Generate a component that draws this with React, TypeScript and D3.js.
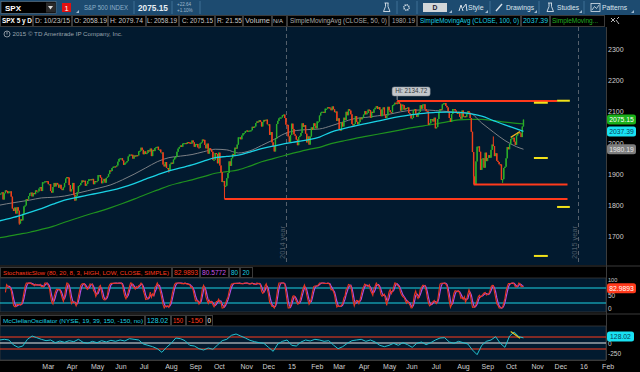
import React from 'react';
import * as d3 from 'd3';

// ---- data -------------------------------------------------------------

// NYSE holidays (no bar on these days)
const holidays = [
  '2014-01-01', '2014-01-20', '2014-02-17', '2014-04-18', '2014-05-26', '2014-07-04',
  '2014-09-01', '2014-11-27', '2014-12-25', '2015-01-01', '2015-01-19', '2015-02-16',
  '2015-04-03', '2015-05-25', '2015-07-03', '2015-09-07', '2015-11-26', '2015-12-25',
  '2016-01-01', '2016-01-18', '2016-02-15',
];

const firstOpen = 1846;

// SPX daily closes, 2014-01-02 .. 2015-10-23, one row per month
const closes: number[] = [
  1832, 1831, 1827, 1838, 1837, 1838, 1842, 1819, 1839, 1848, 1846, 1839, 1844, 1845, 1828, 1790, 1782, 1793, 1774, 1794, 1783,
  1742, 1755, 1752, 1773, 1797, 1800, 1820, 1819, 1830, 1839, 1841, 1829, 1840, 1836, 1848, 1845, 1845, 1854, 1859,
  1846, 1874, 1874, 1877, 1878, 1877, 1868, 1868, 1846, 1841, 1859, 1872, 1861, 1872, 1867, 1857, 1866, 1853, 1849, 1858, 1872,
  1886, 1891, 1889, 1865, 1845, 1852, 1872, 1833, 1816, 1831, 1843, 1862, 1865, 1872, 1880, 1875, 1879, 1863, 1869, 1878, 1884,
  1884, 1881, 1885, 1868, 1878, 1876, 1878, 1897, 1897, 1889, 1871, 1878, 1885, 1873, 1888, 1892, 1901, 1912, 1910, 1920, 1924,
  1925, 1924, 1928, 1940, 1949, 1951, 1951, 1944, 1930, 1936, 1938, 1942, 1957, 1963, 1963, 1962, 1950, 1960, 1957, 1961, 1960,
  1973, 1975, 1985, 1978, 1964, 1973, 1965, 1968, 1977, 1973, 1982, 1958, 1978, 1974, 1984, 1987, 1988, 1978, 1979, 1970, 1970, 1931,
  1925, 1939, 1920, 1920, 1910, 1932, 1937, 1934, 1947, 1955, 1955, 1972, 1982, 1987, 1992, 1988, 1998, 2000, 2000, 1997, 2003,
  2002, 2001, 1998, 2008, 2002, 1988, 1996, 1997, 1986, 1984, 1999, 2002, 2011, 2010, 1994, 1983, 1998, 1966, 1983, 1978, 1972,
  1946, 1946, 1968, 1965, 1935, 1969, 1928, 1906, 1875, 1878, 1862, 1863, 1887, 1904, 1941, 1927, 1951, 1965, 1962, 1985, 1982, 1995, 2018,
  2018, 2012, 2024, 2031, 2032, 2038, 2040, 2038, 2039, 2040, 2041, 2052, 2049, 2053, 2064, 2069, 2067, 2073, 2068,
  2053, 2067, 2074, 2072, 2075, 2060, 2060, 2026, 2035, 2002, 1990, 1973, 2013, 2061, 2071, 2079, 2082, 2082, 2089, 2091, 2080, 2059,
  2058, 2021, 2003, 2026, 2062, 2045, 2028, 2023, 2011, 1993, 2019, 2023, 2032, 2063, 2052, 2057, 2030, 2002, 2021, 1995,
  2021, 2050, 2042, 2063, 2055, 2047, 2069, 2069, 2088, 2097, 2100, 2100, 2097, 2110, 2110, 2115, 2114, 2111, 2105,
  2117, 2108, 2099, 2101, 2071, 2079, 2044, 2040, 2066, 2053, 2081, 2074, 2100, 2089, 2108, 2104, 2092, 2061, 2056, 2061, 2086, 2068,
  2060, 2067, 2081, 2076, 2082, 2091, 2102, 2092, 2096, 2107, 2105, 2081, 2100, 2097, 2108, 2113, 2118, 2109, 2115, 2107, 2086,
  2108, 2114, 2089, 2080, 2088, 2116, 2105, 2099, 2098, 2121, 2123, 2129, 2128, 2126, 2131, 2126, 2104, 2123, 2121, 2107,
  2112, 2110, 2114, 2096, 2093, 2079, 2080, 2105, 2109, 2094, 2084, 2096, 2100, 2121, 2110, 2123, 2124, 2109, 2102, 2101, 2058, 2063,
  2077, 2077, 2069, 2081, 2047, 2051, 2077, 2100, 2109, 2107, 2124, 2127, 2128, 2119, 2114, 2102, 2080, 2068, 2093, 2109, 2109, 2104,
  2098, 2093, 2100, 2084, 2078, 2104, 2084, 2086, 2083, 2092, 2102, 2097, 2080, 2036, 1971, 1893, 1868, 1941, 1988, 1989, 1972,
  1914, 1949, 1951, 1921, 1969, 1942, 1952, 1961, 1953, 1978, 1995, 1990, 1958, 1967, 1943, 1939, 1932, 1931, 1882, 1884, 1920,
  1924, 1951, 1987, 1980, 1996, 2013, 2015, 2017, 2004, 1994, 2024, 2033, 2034, 2031, 2019, 2053, 2075,
];

// intraday extremes on a few notable bars [bar, price]
const wickLows: [number, number][] = [[21, 1738], [69, 1814], [150, 1905], [198, 1821], [241, 1973], [413, 1867], [438, 1872]];
const wickHighs: [number, number][] = [[347, 2134.72], [430, 2021]];

// moving averages read every 10 bars (+ last bar)
const maBars = [...d3.range(0, 451, 10), 456];
const sma50 = [
  1798, 1805, 1811, 1817, 1824, 1826, 1830, 1838, 1847, 1856,
  1866, 1882, 1900, 1920, 1940, 1953, 1958, 1963, 1972, 1980,
  1978, 1968, 1975, 1992, 2010, 2030, 2040, 2043, 2045, 2055,
  2067, 2078, 2082, 2087, 2092, 2100, 2105, 2106, 2104, 2101,
  2098, 2095, 2064, 2035, 2008, 1988, 1980,
];
const sma100 = [
  1747, 1756, 1766, 1778, 1790, 1804, 1817, 1825, 1833, 1840,
  1848, 1858, 1870, 1884, 1898, 1911, 1920, 1930, 1942, 1953,
  1957, 1961, 1971, 1982, 1990, 1998, 2004, 2010, 2019, 2035,
  2045, 2054, 2062, 2070, 2078, 2085, 2091, 2095, 2098, 2099,
  2098, 2094, 2086, 2072, 2058, 2045, 2037,
];
const sma200 = [
  1694, 1700, 1707, 1714, 1723, 1733, 1746, 1758, 1770, 1781,
  1793, 1806, 1820, 1835, 1849, 1863, 1873, 1882, 1892, 1903,
  1908, 1914, 1926, 1940, 1950, 1960, 1970, 1979, 1986, 1998,
  2006, 2014, 2021, 2028, 2035, 2042, 2049, 2055, 2061, 2068,
  2074, 2076, 2076, 2072, 2067, 2063, 2061,
];

// McClellan oscillator read every 4 bars
const mcBars = d3.range(0, 457, 4);
const mcclellan = [
  75, 75, 92, 75, -50, -108, -75, 92, 175, 133,
  92, 58, 75, 8, 50, 17, 58, 33, 92, 17,
  -8, 42, 8, 58, 25, 67, 42, 75, 50, 108,
  92, 75, -25, -58, -92, -142, -233, -108, -8, 125,
  108, 58, -58, -75, -142, -175, -125, -158, -50, 58,
  92, 192, 225, 175, 125, 67, 33, 8, -8, -108,
  -208, -25, 42, 75, -58, -75, 25, 75, 50, 92,
  75, 42, 58, -50, -142, -92, -8, 58, 75, 92,
  42, 75, 25, -58, -92, -58, -8, -58, 8, -42,
  -108, -8, 25, -42, 8, 75, 125, 133, 25, -8,
  42, 8, -25, -175, -292, -58, 42, 75, 158, -8,
  -108, 175, 275, 158, 128,
];

// chart drawings: horizontal levels [fromBar, toBar, price]
const redLevels: [number, number, number][] = [[347, 485, 2134.72], [413, 494, 1867], [198, 494, 1820.66]];
const yellowLevels: [number, number, number][] = [
  [485, 496, 2135.5], [465, 477, 2129], [465, 477, 1952], [485, 496, 1795], [465, 477, 1638],
];
const priceTrend: [number, number][] = [[445, 2018], [453, 2037]];
const mcTrend: [number, number][] = [[445, 290], [453, 120]];

const priceTicks = [1700, 1800, 1900, 2000, 2100, 2200, 2300];
const stochTicks = [100, 50, 0];
const mcTicks = [0, -250];

// ---- chart ------------------------------------------------------------

const FONT = '"Liberation Sans", Arial, sans-serif';
const NAVY = '#021a2f';
const CYAN = '#1ad2e4';
const RED = '#ff3a1c';
const UP = '#2aae2a';
const DOWN = '#f0401c';
const PR = 606;

type Cell = { t: string; x0: number; x1: number; tx: number; tw: number; c?: string; b?: boolean; fs?: number };

const App: React.FC = () => {
  const fmt = d3.utcFormat('%Y-%m-%d');
  const calendar = d3.utcDay
    .range(new Date(Date.UTC(2014, 0, 1)), new Date(Date.UTC(2016, 2, 1)))
    .filter(d => d.getUTCDay() !== 0 && d.getUTCDay() !== 6 && !holidays.includes(fmt(d)));

  const x = d3.scaleLinear().domain([0, 504]).range([-5, 579.1]);
  const yP = d3.scaleLinear().domain([1700, 2300]).range([236.6, 49.4]);
  const yS = d3.scaleLinear().domain([0, 100]).range([308, 283]);
  const yM = d3.scaleLinear().domain([-150, 150]).range([349, 337]);

  // month ticks: first trading day of each month
  const monthTicks: { i: number; label: string }[] = [];
  calendar.forEach((d, i) => {
    if (i > 30 && d.getUTCMonth() !== calendar[i - 1].getUTCMonth()) {
      monthTicks.push({ i, label: d.getUTCMonth() === 0 ? d3.utcFormat('%y')(d) : d3.utcFormat('%b')(d) });
    }
  });
  const yearLines = monthTicks.filter(t => /^\d+$/.test(t.label)).map(t => t.i - 0.5);

  const candles = closes.map((c, i) => {
    const o = i === 0 ? firstOpen : closes[i - 1];
    return { i, o, c, hi: Math.max(o, c), lo: Math.min(o, c) };
  });
  wickLows.forEach(([i, v]) => { candles[i].lo = Math.min(candles[i].lo, v); });
  wickHighs.forEach(([i, v]) => { candles[i].hi = Math.max(candles[i].hi, v); });

  // StochasticSlow(8, 3) from the bars
  const rawK = candles.map((d, i) => {
    if (i < 7) return NaN;
    const w = candles.slice(i - 7, i + 1);
    const hh = d3.max(w, e => e.hi) as number;
    const ll = d3.min(w, e => e.lo) as number;
    return hh === ll ? 50 : ((d.c - ll) / (hh - ll)) * 100;
  });
  const sma3 = (a: number[]) => a.map((_, i) => (i < 2 ? NaN : (a[i] + a[i - 1] + a[i - 2]) / 3));
  const slowK = sma3(rawK);
  const slowD = sma3(slowK);

  const maLine = d3.line<[number, number]>().x(d => x(d[0])).y(d => yP(d[1])).curve(d3.curveMonotoneX);
  const ma = (vals: number[]) => maLine(maBars.map((b, k) => [b, vals[k]] as [number, number])) || '';
  const stLine = d3.line<number>().defined(v => !isNaN(v)).x((_, i) => x(i)).y(v => yS(v));
  const mcLine = d3.line<number>().x((_, k) => x(mcBars[k])).y(v => yM(v));

  const hiX = x(wickHighs[0][0]);
  const hiY = yP(wickHighs[0][1]);

  const infoCells: Cell[] = [
    { t: 'SPX 5 y D', x0: 0, x1: 33, tx: 2, tw: 30, c: '#ffffff', b: true, fs: 6.4 },
    { t: 'D: 10/23/15', x0: 33, x1: 72, tx: 35, tw: 35 },
    { t: 'O: 2058.19', x0: 72, x1: 108, tx: 74, tw: 33 },
    { t: 'H: 2079.74', x0: 108, x1: 146, tx: 110, tw: 33 },
    { t: 'L: 2058.19', x0: 146, x1: 179, tx: 147, tw: 30 },
    { t: 'C: 2075.15', x0: 179, x1: 215, tx: 182, tw: 31 },
    { t: 'R: 21.55', x0: 215, x1: 243, tx: 217, tw: 25 },
    { t: 'Volume', x0: 243, x1: 272, tx: 245, tw: 25 },
    { t: 'N/A', x0: 272, x1: 287, tx: 273, tw: 10, fs: 6 },
    { t: 'SimpleMovingAvg (CLOSE, 50, 0)', x0: 287, x1: 389, tx: 290, tw: 97, c: '#a9a9a9', fs: 6.3 },
    { t: '1980.19', x0: 389, x1: 417, tx: 392, tw: 23, c: '#a9a9a9' },
    { t: 'SimpleMovingAvg (CLOSE, 100, 0)', x0: 417, x1: 521, tx: 420, tw: 99, c: CYAN, fs: 6.3 },
    { t: '2037.39', x0: 521, x1: 550, tx: 523, tw: 25, c: CYAN },
    { t: 'SimpleMoving...', x0: 550, x1: 605, tx: 552, tw: 46, c: '#22b022' },
  ];
  const stochCells: Cell[] = [
    { t: 'StochasticSlow (80, 20, 8, 3, HIGH, LOW, CLOSE, SIMPLE)', x0: 0, x1: 172, tx: 3, tw: 166, c: RED, fs: 6 },
    { t: '82.9893', x0: 172, x1: 200, tx: 174, tw: 24, c: RED, fs: 6.3 },
    { t: '80.5772', x0: 200, x1: 229, tx: 202, tw: 24, c: '#c455e6', fs: 6.3 },
    { t: '80', x0: 229, x1: 240, tx: 231, tw: 7, c: CYAN, fs: 6.3 },
    { t: '20', x0: 240, x1: 253, tx: 242.5, tw: 7, c: CYAN, fs: 6.3 },
  ];
  const mcCells: Cell[] = [
    { t: 'McClellanOscillator (NYSE, 19, 39, 150, -150, no)', x0: 0, x1: 145, tx: 3, tw: 140, c: CYAN, fs: 6 },
    { t: '128.02', x0: 145, x1: 171, tx: 147, tw: 21, c: CYAN, fs: 6.3 },
    { t: '150', x0: 171, x1: 186, tx: 173, tw: 10, c: RED, fs: 6.3 },
    { t: '-150', x0: 186, x1: 206, tx: 188, tw: 15, c: RED, fs: 6.3 },
    { t: '0', x0: 206, x1: 213, tx: 207.5, tw: 3.5, c: '#ffffff', fs: 6.3 },
  ];

  const cellRow = (cells: Cell[], y0: number, h: number, key: string) => (
    <g key={key}>
      {cells.map((cl, k) => (
        <g key={k}>
          <rect x={cl.x0 + 0.5} y={y0 + 0.5} width={cl.x1 - cl.x0 - 1} height={h - 1} fill="#000" stroke="#3a3a3a" />
          <text x={cl.tx} y={y0 + h / 2 + 2.3} fontSize={cl.fs || 6.5} fill={cl.c || '#c8c8c8'} fontWeight={cl.b ? 'bold' : 'normal'}
            textLength={cl.tw} lengthAdjust="spacingAndGlyphs">{cl.t}</text>
        </g>
      ))}
    </g>
  );

  const tag = (y: number, text: string, bg: string, fg: string, w = 29) => (
    <g key={text}>
      <rect x={607} y={y - 5} width={w} height={10} rx={2.5} fill={bg} />
      <text x={607 + w / 2} y={y + 2.4} fontSize={6.8} fill={fg} textAnchor="middle">{text}</text>
    </g>
  );

  const sep = (sx: number) => <line key={sx} x1={sx} x2={sx} y1={1} y2={14} stroke="#3f7095" />;

  return (
    <div style={{ width: 640, height: 372 }}>
      <style>{'body{margin:0;background:#000}'}</style>
      <svg width={640} height={372} style={{ display: 'block', fontFamily: FONT }}>
        <defs>
          <clipPath id="cMain"><rect x={0} y={27} width={PR} height={238} /></clipPath>
          <clipPath id="cSt"><rect x={0} y={278} width={PR} height={34} /></clipPath>
          <clipPath id="cMc"><rect x={0} y={326} width={PR} height={34} /></clipPath>
        </defs>
        <rect width={640} height={372} fill="#000" />

        {/* toolbar */}
        <rect x={0} y={0} width={640} height={15} fill="#1d4b70" />
        <rect x={1} y={1.5} width={55} height={12} fill="#000" stroke="#6a7f90" strokeWidth={0.6} />
        <text x={5} y={10.5} fontSize={8} fontWeight="bold" fill="#fff">SPX</text>
        <rect x={46} y={2.5} width={9} height={10} fill="#2a2a2a" />
        <path d="M48,6 L53,6 L50.5,9.5 Z" fill="#ddd" />
        <rect x={62} y={3} width={9} height={9} fill="#e01010" />
        <text x={66.5} y={10.5} fontSize={7.5} fill="#fff" textAnchor="middle">1</text>
        <path d="M76,13 L79,13 L79,10 Z" fill="#9fb8cc" />
        <text x={84} y={10} fontSize={6.4} fill="#8fb0c8" textLength={44} lengthAdjust="spacingAndGlyphs">S&amp;P 500 INDEX</text>
        {sep(134)}
        <text x={138} y={11} fontSize={8.6} fontWeight="bold" fill="#e6eef4" textLength={30} lengthAdjust="spacingAndGlyphs">2075.15</text>
        {sep(172)}
        <text x={177} y={6.3} fontSize={4.6} fill="#9fb8cc">+22.64</text>
        <text x={177} y={12} fontSize={4.6} fill="#9fb8cc">+1.10%</text>
        {sep(200)}
        <path d="M384.5,3 L388.5,3 M385.5,3 L385.5,6.5 L383.5,11.5 L390,11.5 L388,6.5 L388,3" stroke="#d8e2ea" fill="none" strokeWidth={0.9} />
        {sep(397)}
        <circle cx={406.5} cy={7.5} r={2.6} fill="none" stroke="#d8e2ea" strokeWidth={1.6} strokeDasharray="1.2,0.8" />
        <circle cx={406.5} cy={7.5} r={1} fill="#1d4b70" />
        {sep(417)}
        <rect x={423} y={3} width={24} height={9} fill="#d2d6d9" />
        <text x={435} y={10} fontSize={6.8} fontWeight="bold" fill="#223" textAnchor="middle">D</text>
        <path d="M449,13 L452,13 L452,10 Z" fill="#9fb8cc" />
        <path d="M459,11 L461,5 L463,11 M463,8 L466,4 L467,11" stroke="#d8e2ea" fill="none" strokeWidth={1} />
        <text x={468} y={10} fontSize={7} fill="#dde6ee">Style</text>
        <path d="M485,13 L488,13 L488,10 Z" fill="#9fb8cc" />
        {sep(490)}
        <path d="M496,11 L502,4" stroke="#d8e2ea" strokeWidth={1.4} />
        <text x={506} y={10} fontSize={7} fill="#dde6ee" textLength={28} lengthAdjust="spacingAndGlyphs">Drawings</text>
        <path d="M534,13 L537,13 L537,10 Z" fill="#9fb8cc" />
        {sep(539)}
        <path d="M548,3 L552,3 M549,3 L549,6.5 L547,11.5 L553.5,11.5 L551.5,6.5 L551.5,3" stroke="#d8e2ea" fill="none" strokeWidth={0.9} />
        <text x={557} y={10} fontSize={7} fill="#dde6ee" textLength={22} lengthAdjust="spacingAndGlyphs">Studies</text>
        <path d="M579,13 L582,13 L582,10 Z" fill="#9fb8cc" />
        {sep(584)}
        <rect x={591} y={3.5} width={9} height={8} fill="none" stroke="#d8e2ea" strokeWidth={0.8} />
        <path d="M592,10 L594.5,6.5 L596.5,8.5 L599,5" stroke="#d8e2ea" fill="none" strokeWidth={0.8} />
        <text x={602} y={10} fontSize={7} fill="#dde6ee" textLength={25} lengthAdjust="spacingAndGlyphs">Patterns</text>
        <path d="M631,13 L634,13 L634,10 Z" fill="#9fb8cc" />

        {/* info row */}
        {cellRow(infoCells, 15, 12, 'info')}
        <path d="M611,18 L615,22 M615,18 L611,22 M616,20 L619,24 M617,19 L619,17" stroke="#b8b8b8" strokeWidth={1} />

        {/* main price panel */}
        <rect x={0} y={27} width={PR} height={238} fill={NAVY} />
        <line x1={PR + 0.5} x2={PR + 0.5} y1={27} y2={360} stroke="#3c3c3c" />
        <g clipPath="url(#cMain)">
          {yearLines.map((b, k) => (
            <g key={k}>
              <line x1={x(b)} x2={x(b)} y1={27} y2={265} stroke="#57626e" strokeDasharray="4,3" />
              <text transform={`translate(${x(b) - 1.8},259) rotate(-90)`} fontSize={7} fill="#4d5a68"
                textLength={33} lengthAdjust="spacingAndGlyphs">{`${2014 + k} year`}</text>
            </g>
          ))}
          <path d={ma(sma200)} fill="none" stroke="#1f921f" strokeWidth={1.2} />
          <path d={ma(sma50)} fill="none" stroke="#7b7f84" strokeWidth={1} />
          {candles.map(d => {
            const col = d.c >= d.o ? UP : DOWN;
            const top = yP(Math.max(d.o, d.c));
            const h = Math.max(1.2, yP(Math.min(d.o, d.c)) - top);
            return (
              <g key={d.i}>
                <line x1={x(d.i)} x2={x(d.i)} y1={yP(d.hi)} y2={yP(d.lo)} stroke={col} strokeWidth={1} />
                <rect x={x(d.i) - 0.7} y={top} width={1.4} height={h} fill={col} />
              </g>
            );
          })}
          <path d={ma(sma100)} fill="none" stroke={CYAN} strokeWidth={1.3} />
          {redLevels.map(([a, b, p], k) => (
            <line key={k} x1={x(a)} x2={x(b)} y1={yP(p)} y2={yP(p)} stroke={RED} strokeWidth={2} />
          ))}
          {yellowLevels.map(([a, b, p], k) => (
            <line key={k} x1={x(a)} x2={x(b)} y1={yP(p)} y2={yP(p)} stroke="#f2e21a" strokeWidth={2} />
          ))}
          <line x1={x(priceTrend[0][0])} y1={yP(priceTrend[0][1])} x2={x(priceTrend[1][0])} y2={yP(priceTrend[1][1])}
            stroke="#f0b020" strokeWidth={1.3} />
          <line x1={hiX} x2={hiX} y1={hiY - 5} y2={hiY - 1} stroke="#9aa0a6" />
          <rect x={hiX - 5} y={hiY - 14} width={38} height={9} rx={2} fill="#c4c8cc" stroke="#8a9096" strokeWidth={0.5} />
          <text x={hiX - 2} y={hiY - 7.6} fontSize={6.3} fill="#333a40" textLength={32} lengthAdjust="spacingAndGlyphs">
            {`Hi: ${wickHighs[0][1].toFixed(2)}`}
          </text>
        </g>
        <circle cx={7} cy={34} r={3} fill="none" stroke="#a8b0b8" strokeWidth={0.8} />
        <line x1={7} x2={7} y1={31.5} y2={34.5} stroke="#a8b0b8" strokeWidth={0.8} />
        <text x={12.5} y={36} fontSize={5.8} fill="#9aa4ae" textLength={110} lengthAdjust="spacingAndGlyphs">
          2015 © TD Ameritrade IP Company, Inc.
        </text>
        {priceTicks.map(t => (
          <text key={t} x={608} y={yP(t) + 2.5} fontSize={7} fill="#cfcfcf">{t}</text>
        ))}
        {tag(yP(closes[closes.length - 1]), '2075.15', '#1ab01a', '#ffffff')}
        {tag(yP(sma100[sma100.length - 1]), '2037.39', '#19e2f2', '#0a3a55')}
        {tag(yP(sma50[sma50.length - 1]), '1980.19', '#7d7d7d', '#e8e8e8')}

        {/* stochastic panel */}
        <line x1={0} x2={640} y1={266} y2={266} stroke="#3a3a3a" />
        {cellRow(stochCells, 267, 11, 'st')}
        <rect x={0} y={278} width={PR} height={34} fill={NAVY} stroke="#3a3a3a" strokeWidth={0.8} />
        <g clipPath="url(#cSt)">
          {[80, 20].map(v => (
            <line key={v} x1={0} x2={PR} y1={yS(v)} y2={yS(v)} stroke={CYAN} strokeWidth={1.2} />
          ))}
          <path d={stLine(slowD) || ''} fill="none" stroke="#b04ee0" strokeWidth={1.2} />
          <path d={stLine(slowK) || ''} fill="none" stroke="#e8351e" strokeWidth={1.1} />
        </g>
        {stochTicks.map(t => (
          <text key={t} x={608} y={t === 100 ? 282.4 : yS(t) + 2.5} fontSize={t === 100 ? 5.6 : 6.5} fill="#cfcfcf">{t}</text>
        ))}
        {tag(288.2, '82.9893', '#ff3a1c', '#ffffff', 29)}

        {/* McClellan panel */}
        <line x1={0} x2={640} y1={314} y2={314} stroke="#3a3a3a" />
        {cellRow(mcCells, 315, 11, 'mc')}
        <rect x={0} y={326} width={PR} height={34} fill={NAVY} stroke="#3a3a3a" strokeWidth={0.8} />
        <g clipPath="url(#cMc)">
          {[150, -150].map(v => (
            <line key={v} x1={0} x2={PR} y1={yM(v)} y2={yM(v)} stroke={RED} strokeWidth={1} />
          ))}
          <line x1={0} x2={PR} y1={yM(0)} y2={yM(0)} stroke="#e8e8e8" strokeWidth={1} />
          <path d={mcLine(mcclellan) || ''} fill="none" stroke="#22c2cf" strokeWidth={1} />
          <line x1={x(mcTrend[0][0])} y1={yM(mcTrend[0][1])} x2={x(mcTrend[1][0])} y2={yM(mcTrend[1][1])}
            stroke="#e8c020" strokeWidth={1.2} />
        </g>
        {mcTicks.map(t => (
          <text key={t} x={608} y={yM(t) + 2.5} fontSize={6.5} fill="#cfcfcf">{t}</text>
        ))}
        {tag(yM(128.02) - 1.5, '128.02', '#19e2f2', '#0a3a55', 27)}

        {/* time axis */}
        <line x1={0} x2={PR} y1={360.5} y2={360.5} stroke="#3a3a3a" />
        {monthTicks.map(t => (
          <text key={t.i} x={x(t.i) + 1} y={368.5} fontSize={7} fill="#cfcfcf">{t.label}</text>
        ))}
      </svg>
    </div>
  );
};

export default App;
